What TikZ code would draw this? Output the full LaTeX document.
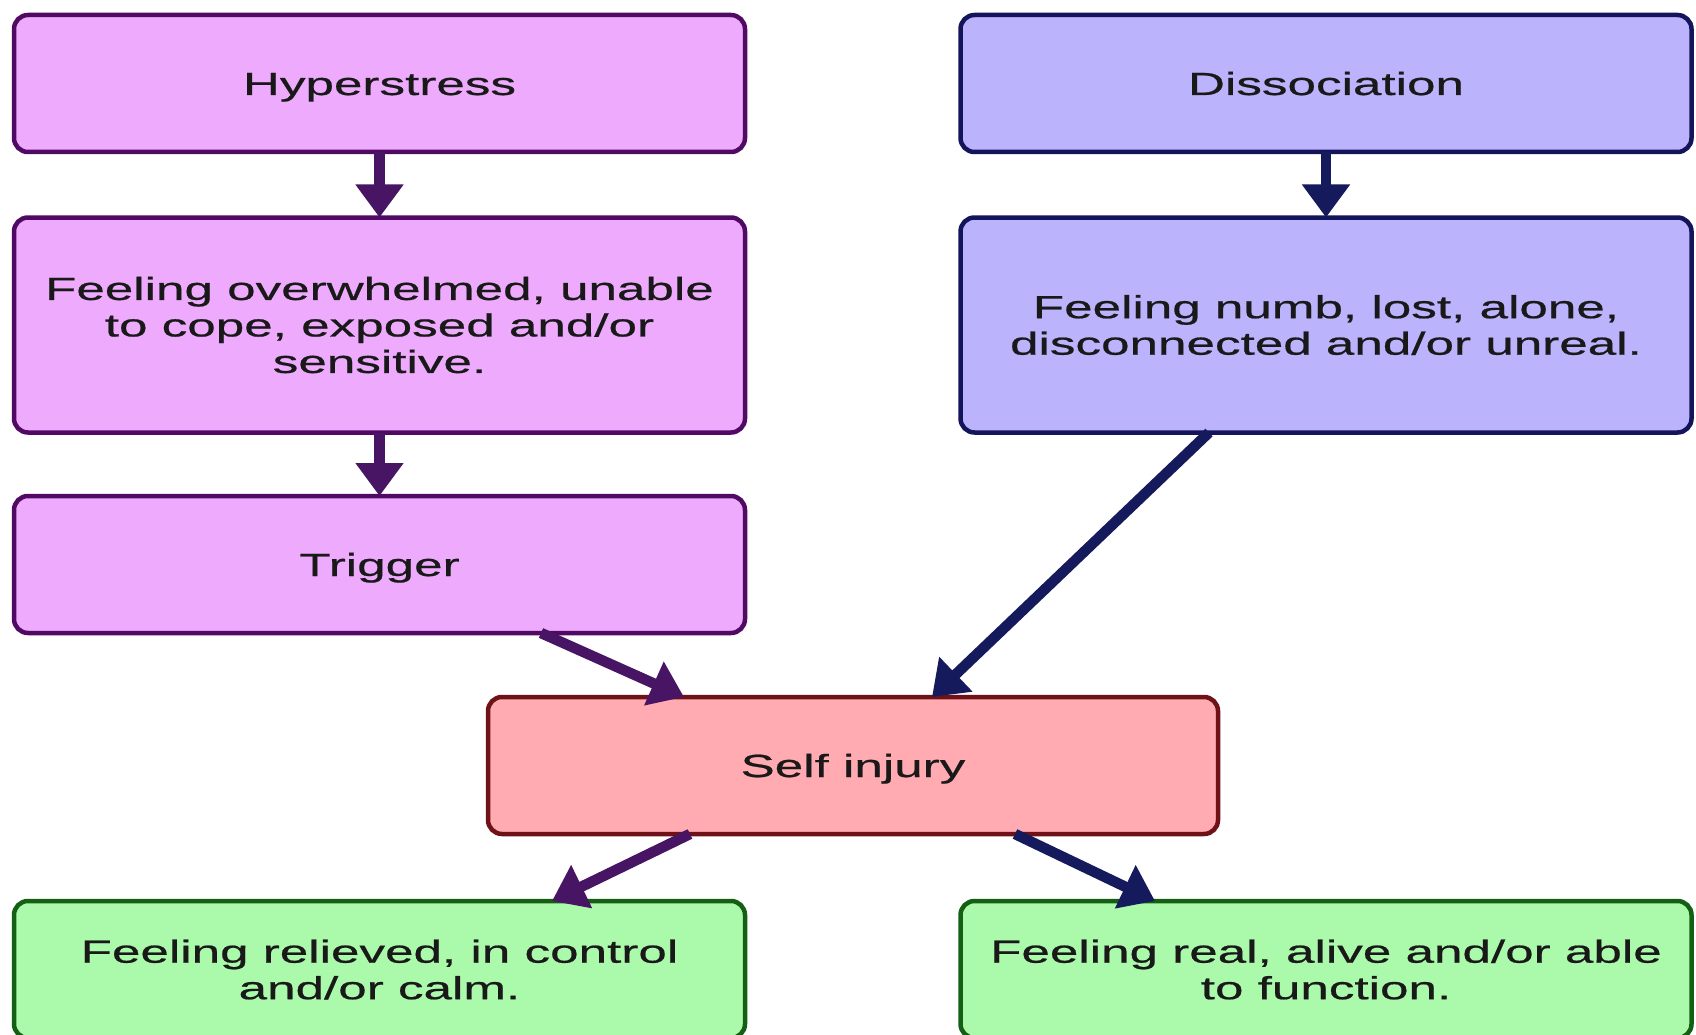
\documentclass[tikz,border=0pt]{standalone}
\usepackage{fontspec}
\setmainfont{Liberation Sans}[FakeStretch=1.6,FakeBold=0.6]
\usetikzlibrary{arrows.meta}
\definecolor{pinkfill}{HTML}{EEAAFC}
\definecolor{pinkline}{HTML}{500A64}
\definecolor{purparrow}{HTML}{481464}
\definecolor{bluefill}{HTML}{BBB3FC}
\definecolor{blueline}{HTML}{14145A}
\definecolor{bluearrow}{HTML}{141A5C}
\definecolor{redfill}{HTML}{FFABB1}
\definecolor{redline}{HTML}{6E1218}
\definecolor{greenfill}{HTML}{ABFAAB}
\definecolor{greenline}{HTML}{145F14}
\tikzset{
  box/.style={draw, line width=4.5pt, rounded corners=14pt, align=center,
    minimum width=731pt, inner sep=0pt, outer sep=0pt,
    font=\fontsize{32pt}{36.5pt}\selectfont, text=black!90},
  oneline/.style={text height=23pt, text depth=0pt},
  pinkbox/.style={box, fill=pinkfill, draw=pinkline},
  bluebox/.style={box, fill=bluefill, draw=blueline},
  redbox/.style={box, fill=redfill, draw=redline},
  greenbox/.style={box, fill=greenfill, draw=greenline},
  conn/.style={line width=10.5pt, -{Triangle[length=33pt,width=46pt]}},
  pconn/.style={conn, draw=purparrow, fill=purparrow},
  bconn/.style={conn, draw=bluearrow, fill=bluearrow}
}
\begin{document}
\begin{tikzpicture}[x=1pt,y=-1pt]
\useasboundingbox[fill=white] (0,0) rectangle (1696,1035);
\node[pinkbox, oneline, minimum height=137pt] (hyp) at (379.5,83.5) {Hyperstress};
\node[bluebox, oneline, minimum height=137pt] (dis) at (1326,83.5) {Dissociation};
\node[pinkbox, minimum height=215pt] (ovw) at (379.5,325) {Feeling overwhelmed, unable\\to cope, exposed and/or\\sensitive.};
\node[bluebox, minimum height=215pt] (numb) at (1326,325) {Feeling numb, lost, alone,\\disconnected and/or unreal.};
\node[pinkbox, oneline, minimum height=137pt] (trig) at (379.5,564.5) {Trigger};
\node[redbox, oneline, minimum height=137pt, minimum width=730pt] (self) at (853,765.5) {Self injury};
\node[greenbox, minimum height=137pt] (gl) at (379.5,969.5) {Feeling relieved, in control\\and/or calm.};
\node[greenbox, minimum height=137pt] (gr) at (1326,969.5) {Feeling real, alive and/or able\\to function.};
\draw[pconn] (hyp.south) -- (ovw.north);
\draw[bconn] (dis.south) -- (numb.north);
\draw[pconn] (ovw.south) -- (trig.north);
\draw[pconn] ([xshift=161.5pt]trig.south) -- ([xshift=-169pt]self.north);
\draw[bconn] ([xshift=-117pt]numb.south) -- ([xshift=79pt]self.north);
\draw[pconn] ([xshift=-163pt]self.south) -- ([xshift=172.5pt]gl.north);
\draw[bconn] ([xshift=162pt]self.south) -- ([xshift=-171pt]gr.north);
\end{tikzpicture}
\end{document}
